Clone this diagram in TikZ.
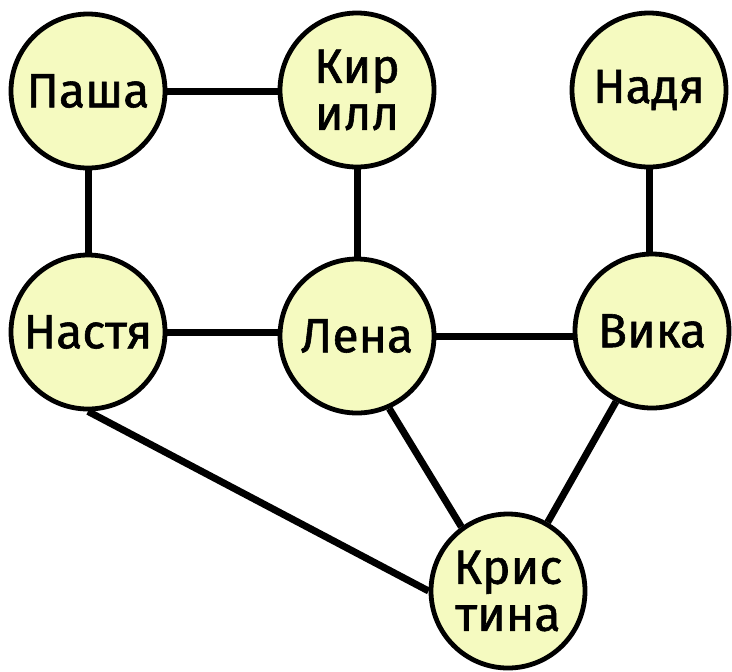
\documentclass[tikz,border=0pt]{standalone}
\usepackage{fontspec}
\setmainfont{Fira Sans}
\newfontfamily\namefont[FakeBold=1.2]{Fira Sans}
\usetikzlibrary{backgrounds}
\definecolor{nodefill}{HTML}{F5FAC0}
\tikzset{
  person/.style={circle, draw=black, line width=2.4pt, fill=nodefill,
    minimum size=77pt, inner sep=0pt, align=center,
    font=\namefont\fontsize{24}{23.5}\selectfont},
  link/.style={line width=3.5pt, draw=black}
}
\begin{document}
\begin{tikzpicture}[x=0.5pt,y=-0.5pt]
\useasboundingbox (0,0) rectangle (732,671);
\node[person] (pasha)  at (88,91)  {Паша};
\node[person] (kirill) at (357,90) {Кир\\илл};
\node[person] (nadya)  at (649,90) {Надя};
\node[person] (nastya) at (88,332) {Настя};
\node[person] (lena)   at (357,336) {Лена};
\node[person] (vika)   at (652,331) {Вика};
\node[person] (kris)   at (508,591) {Крис\\тина};
\begin{pgfonlayer}{background}
\draw[link] (pasha.east) -- (kirill.west |- pasha.east);
\draw[link] (pasha.south) -- (nastya.north);
\draw[link] (kirill.south) -- (lena.north);
\draw[link] (nadya.south) -- (nadya.south |- vika.north);
\draw[link] (nastya.east) -- (lena.west |- nastya.east);
\draw[link] (lena.east) -- (vika.west |- lena.east);
\draw[link] (nastya.south) -- (kris.west);
\draw[link] (lena.-66) -- (kris.126);
\draw[link] (vika.-117) -- (kris.60);
\end{pgfonlayer}
\end{tikzpicture}
\end{document}
